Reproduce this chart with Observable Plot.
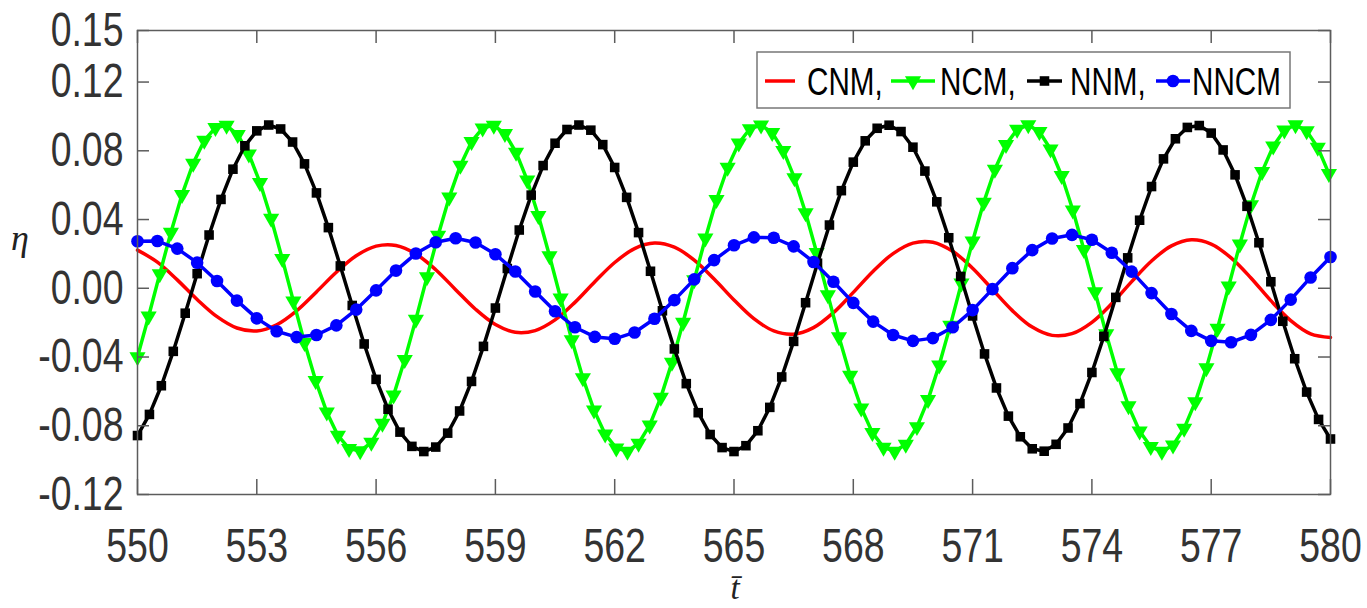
<!DOCTYPE html>
<html><head><meta charset="utf-8">
<script src="https://cdn.jsdelivr.net/npm/d3@7"></script>
<script src="https://cdn.jsdelivr.net/npm/@observablehq/plot@0.6"></script>
<style>
html,body{margin:0;padding:0;background:#fff;}
#chart{width:1367px;height:608px;overflow:hidden;}
</style>
</head><body><div id="chart"></div>
<script>
// tick labels
const xTicks = [550, 553, 556, 559, 562, 565, 568, 571, 574, 577, 580];
const yTicks = [-0.12, -0.08, -0.04, 0, 0.04, 0.08, 0.12, 0.15];

// series: sampled from t = 550 with the given step
const tStart = 550;
const stepCNM = 0.5, stepNCM = 0.28, stepNNM = 0.3, stepNNCM = 0.5;

const cnm = [0.0222,0.0152,0.0049,-0.0065,-0.0165,-0.0231,-0.0248,-0.0212,-0.0131,-0.0021,
0.0093,0.0189,0.0245,0.0249,0.0200,0.0108,-0.0008,-0.0122,-0.0211,-0.0256,
-0.0246,-0.0184,-0.0082,0.0038,0.0150,0.0231,0.0263,0.0239,0.0164,0.0054,
-0.0068,-0.0177,-0.0248,-0.0267,-0.0229,-0.0142,-0.0024,0.0099,0.0202,0.0263,
0.0268,0.0215,0.0117,-0.0007,-0.0130,-0.0226,-0.0274,-0.0264,-0.0198,-0.0089,
0.0039,0.0159,0.0247,0.0282,0.0257,0.0177,0.0060,-0.0072,-0.0188,-0.0265,-0.0286];

const ncm = [-0.0399,-0.0163,0.0084,0.0325,0.0545,0.0727,0.0860,0.0935,0.0947,0.0894,
0.0781,0.0615,0.0407,0.0172,-0.0075,-0.0317,-0.0537,-0.0721,-0.0856,-0.0933,
-0.0947,-0.0897,-0.0786,-0.0622,-0.0415,-0.0181,0.0066,0.0308,0.0530,0.0715,
0.0853,0.0932,0.0948,0.0900,0.0791,0.0629,0.0423,0.0189,-0.0057,-0.0300,
-0.0522,-0.0709,-0.0849,-0.0930,-0.0949,-0.0903,-0.0796,-0.0635,-0.0431,-0.0198,
0.0048,0.0291,0.0515,0.0703,0.0844,0.0928,0.0949,0.0906,0.0801,0.0642,
0.0439,0.0207,-0.0039,-0.0283,-0.0507,-0.0697,-0.0840,-0.0926,-0.0949,-0.0908,
-0.0806,-0.0648,-0.0447,-0.0216,0.0030,0.0274,0.0500,0.0691,0.0836,0.0924,
0.0950,0.0911,0.0810,0.0655,0.0455,0.0224,-0.0021,-0.0266,-0.0492,-0.0685,
-0.0832,-0.0922,-0.0950,-0.0913,-0.0815,-0.0661,-0.0463,-0.0233,0.0012,0.0257,
0.0485,0.0679,0.0827,0.0920,0.0950,0.0916,0.0819,0.0667];

const nnm = [-0.0857,-0.0734,-0.0567,-0.0367,-0.0145,0.0085,0.0310,0.0517,0.0693,0.0829,
0.0916,0.0950,0.0927,0.0851,0.0724,0.0555,0.0353,0.0130,-0.0100,-0.0324,
-0.0530,-0.0704,-0.0837,-0.0920,-0.0950,-0.0924,-0.0843,-0.0714,-0.0542,-0.0338,
-0.0115,0.0115,0.0339,0.0542,0.0714,0.0844,0.0924,0.0950,0.0920,0.0836,
0.0703,0.0529,0.0324,0.0099,-0.0131,-0.0353,-0.0555,-0.0724,-0.0851,-0.0927,
-0.0950,-0.0916,-0.0829,-0.0693,-0.0516,-0.0309,-0.0084,0.0146,0.0368,0.0568,
0.0734,0.0858,0.0931,0.0949,0.0912,0.0821,0.0682,0.0503,0.0294,0.0069,
-0.0161,-0.0382,-0.0580,-0.0744,-0.0864,-0.0934,-0.0948,-0.0908,-0.0813,-0.0671,
-0.0490,-0.0280,-0.0053,0.0177,0.0396,0.0592,0.0753,0.0870,0.0936,0.0947,
0.0903,0.0805,0.0660,0.0477,0.0265,0.0038,-0.0192,-0.0410,-0.0604,-0.0763,-0.0877];

const nncm = [0.0274,0.0275,0.0231,0.0149,0.0042,-0.0072,-0.0175,-0.0250,-0.0284,-0.0272,
-0.0216,-0.0124,-0.0012,0.0103,0.0202,0.0268,0.0291,0.0266,0.0198,0.0098,
-0.0019,-0.0134,-0.0227,-0.0283,-0.0294,-0.0257,-0.0177,-0.0069,0.0052,0.0164,
0.0250,0.0296,0.0294,0.0244,0.0153,0.0038,-0.0085,-0.0194,-0.0272,-0.0306,
-0.0290,-0.0227,-0.0127,-0.0005,0.0117,0.0222,0.0290,0.0311,0.0282,0.0207,
0.0097,-0.0028,-0.0150,-0.0248,-0.0306,-0.0314,-0.0271,-0.0184,-0.0066,0.0063,0.0182];

const names = ["CNM,", "NCM,", "NNM,", "NNCM"];
const colors = ["#ff0000", "#00ff00", "#000000", "#0000ff"];

const rows = (vals, step) => vals.map((v, i) => ({t: tStart + i * step, v}));
const dCNM = rows(cnm, stepCNM), dNCM = rows(ncm, stepNCM), dNNM = rows(nnm, stepNNM), dNNCM = rows(nncm, stepNNCM);

const triDown = {draw(ctx, size) {
  const R = Math.sqrt(size / (3 * Math.sqrt(3) / 4));
  const w = R * Math.sqrt(3) / 2;
  ctx.moveTo(0, R); ctx.lineTo(w, -R / 2); ctx.lineTo(-w, -R / 2); ctx.closePath();
}};

const W = 1367, H = 608, mL = 137, mR = 37, mT = 30, mB = 114;
const pw = W - mL - mR, ph = H - mT - mB;
const axisGray = "#5c5c5c";
const lw = 3.5, rTri = 6, rSq = 5.4, rCirc = 6.3;
const narrow = 0.78;

const plot = Plot.plot({
  width: W, height: H, marginLeft: mL, marginRight: mR, marginTop: mT, marginBottom: mB,
  style: {fontFamily: "Liberation Sans, Arial, sans-serif", fontSize: "48px", color: "#333", background: "white"},
  x: {domain: [550, 580]},
  y: {domain: [-0.12, 0.15]},
  marks: [
    Plot.line(dCNM, {x: "t", y: "v", stroke: colors[0], strokeWidth: lw, curve: "catmull-rom"}),
    Plot.line(dNCM, {x: "t", y: "v", stroke: colors[1], strokeWidth: lw}),
    Plot.dot(dNCM, {x: "t", y: "v", symbol: triDown, fill: colors[1], r: rTri}),
    Plot.line(dNNM, {x: "t", y: "v", stroke: colors[2], strokeWidth: lw}),
    Plot.dot(dNNM, {x: "t", y: "v", symbol: "square", fill: colors[2], r: rSq}),
    Plot.line(dNNCM, {x: "t", y: "v", stroke: colors[3], strokeWidth: lw}),
    Plot.dot(dNNCM, {x: "t", y: "v", fill: colors[3], r: rCirc}),
    Plot.frame({stroke: axisGray, strokeWidth: 1.5}),
    Plot.ruleY(yTicks, {insetRight: pw - 12, stroke: axisGray, strokeWidth: 1.5}),
    Plot.ruleY(yTicks, {insetLeft: pw - 12, stroke: axisGray, strokeWidth: 1.5}),
    Plot.ruleX(xTicks, {insetTop: ph - 15, stroke: axisGray, strokeWidth: 1.5}),
    Plot.ruleX(xTicks, {insetBottom: ph - 13, stroke: axisGray, strokeWidth: 1.5}),
    Plot.axisX({ticks: xTicks, tickSize: 0, tickPadding: 33, label: null, tickFormat: d => String(d), fill: "#333"}),
    Plot.axisY({ticks: yTicks, tickSize: 0, tickPadding: 14, label: null, tickFormat: d => d.toFixed(2), fill: "#333"})
  ]
});

document.getElementById("chart").append(plot);
const svg = d3.select(plot);

// condensed look: scale text horizontally about its own anchor
const condense = (sel, k) => sel.each(function() {
  const tr = this.getAttribute("transform");
  if (tr) {
    this.setAttribute("transform", `${tr} scale(${k},1)`);
  } else {
    const x = +this.getAttribute("x") || 0, y = +this.getAttribute("y") || 0;
    this.setAttribute("x", 0); this.setAttribute("y", 0);
    this.setAttribute("transform", `translate(${x},${y}) scale(${k},1)`);
  }
});
condense(svg.selectAll('g[aria-label="x-axis tick label"] text, g[aria-label="y-axis tick label"] text'), narrow);

// axis titles
svg.append("text").attr("x", 20).attr("y", 250).attr("text-anchor", "middle")
  .attr("font-family", "Liberation Serif, serif").attr("font-style", "italic")
  .attr("font-size", 36).attr("fill", "#222").text("η");
svg.append("text").attr("x", 735).attr("y", 599).attr("text-anchor", "middle")
  .attr("font-family", "Liberation Serif, serif").attr("font-style", "italic")
  .attr("font-size", 33).attr("fill", "#222").text("t\u0304");

// legend
const lg = svg.append("g").attr("transform", "translate(757,52)");
lg.append("rect").attr("width", 533).attr("height", 56).attr("fill", "white").attr("stroke", "#777").attr("stroke-width", 1.5);
const items = [
  {x0: 8, x1: 38, tx: 50, sym: null},
  {x0: 134, x1: 178, tx: 183, sym: triDown, r: rTri},
  {x0: 270, x1: 305, tx: 313, sym: d3.symbolSquare, r: rSq},
  {x0: 399, x1: 433, tx: 435, sym: d3.symbolCircle, r: rCirc}
];
items.forEach((it, i) => {
  lg.append("line").attr("x1", it.x0).attr("x2", it.x1).attr("y1", 29).attr("y2", 29)
    .attr("stroke", colors[i]).attr("stroke-width", lw);
  if (it.sym) {
    lg.append("path").attr("transform", `translate(${(it.x0 + it.x1) / 2},29)`)
      .attr("d", d3.symbol(it.sym, Math.PI * it.r * it.r)()).attr("fill", colors[i]);
  }
  lg.append("text").attr("class", "lgt").attr("x", it.tx).attr("y", 43)
    .attr("text-anchor", "start")
    .attr("font-family", "Liberation Sans, Arial, sans-serif").attr("font-size", 38)
    .attr("fill", "#000").text(names[i]);
});
condense(lg.selectAll("text.lgt"), narrow);
</script>
</body></html>
